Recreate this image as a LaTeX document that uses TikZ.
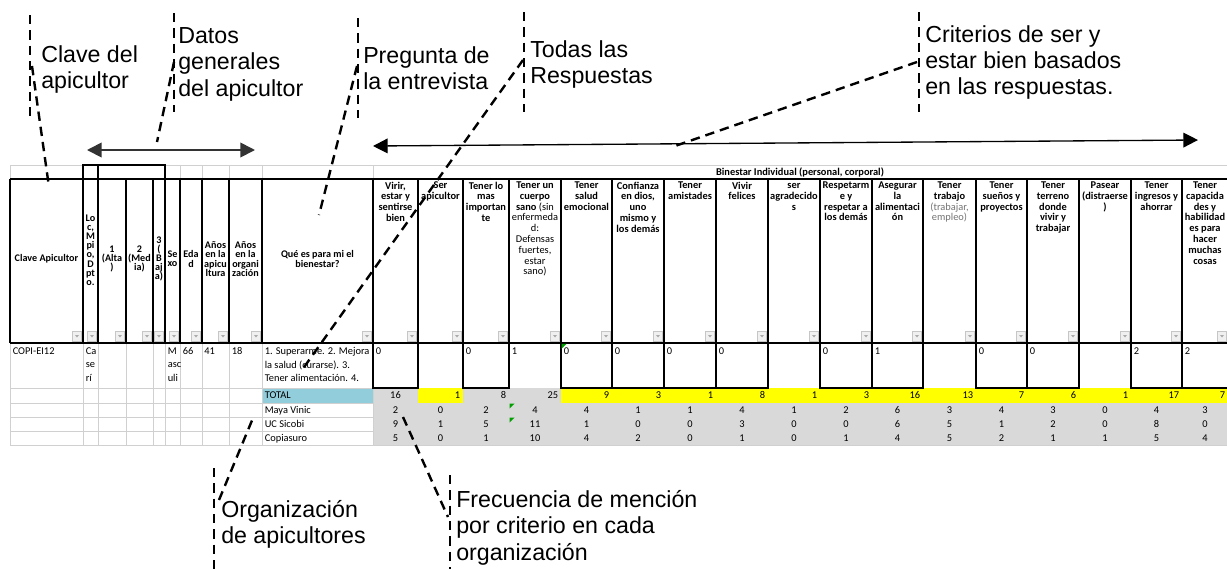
\documentclass[tikz,border=0pt]{standalone}
\usepackage{fontspec}
\setmainfont{Liberation Sans}
\newfontfamily\cellfont{Carlito}
\usetikzlibrary{arrows.meta}
\definecolor{gridgray}{HTML}{D0D0D0}
\definecolor{cellgray}{HTML}{D9D9D9}
\definecolor{totalblue}{HTML}{92CDDC}
\definecolor{markyellow}{HTML}{FFFF00}
\definecolor{notegreen}{HTML}{00A000}
\definecolor{arrowgray}{HTML}{333333}
\newcommand{\plainpart}[1]{{\mdseries #1}}
\newcommand{\litepart}[1]{{\mdseries\color{black!55}#1}}
\setlength{\lineskiplimit}{-5pt}

\begin{document}
\begin{tikzpicture}[x=0.75pt, y=-0.75pt,
  callout/.style={line width=1.8pt, dash pattern=on 7pt off 4.5pt},
  calltext/.style={font=\fontsize{17.4}{19.8}\selectfont, align=left, anchor=north west, inner sep=0pt},
  hdrleft/.style={font=\cellfont\bfseries\fontsize{7.6}{6.9}\selectfont, align=center, inner sep=0pt},
  hdrcrit/.style={font=\cellfont\bfseries\fontsize{7.8}{8.1}\selectfont, align=center, anchor=north, inner sep=0pt},
  celltxt/.style={font=\cellfont\fontsize{7.8}{10.1}\selectfont, align=left, anchor=north west, inner sep=0pt},
  numtxt/.style={font=\cellfont\fontsize{7.8}{9}\selectfont, inner sep=0pt, anchor=base},
  blackline/.style={line width=0.9pt},
  filterbtn/.style={draw=gray!45, fill=gray!12, line width=0.3pt},
  spanarrow/.style={{Triangle[length=11pt,width=11pt]}-{Triangle[length=11pt,width=11pt]}}]
\useasboundingbox (0,0) rectangle (1227,569);

\fill[cellgray] (373,388) rectangle (1230,445);
\fill[markyellow] (418,388) rectangle (463,403);
\fill[markyellow] (561,388) rectangle (1230,403);
\fill[totalblue] (262,388) rectangle (373,403);

\draw[gridgray] (10,165) -- (1230,165);
\foreach \x in {10,83,180,202,229,262,373}
  \draw[gridgray] (\x,165) -- (\x,179);
\foreach \x in {10,83,98,126,153,165,180,202,229,262,373}
  \draw[gridgray] (\x,343) -- (\x,445);
\foreach \y in {388,403,417,431,445}
  \draw[gridgray] (10,\y) -- (373,\y);
\draw[gridgray] (373,445) -- (1230,445);

\draw[blackline] (10,179) -- (1230,179);
\foreach \x in {10,83,98,126,153,165,180,202,229,262,373,418,463,509,561,612,664,716,768,820,872,923,976,1027,1079,1131,1182}
  \draw[blackline] (\x,179) -- (\x,343);
\draw[line width=1.5pt] (10,343) -- (1230,343);
\draw[blackline] (83,165) rectangle (165,179) (98,165) -- (98,179);

\node[hdrcrit, anchor=center] (bienestar) at (800,172.5) {Binestar Individual (personal, corporal)};

\foreach \l/\r/\txt [count=\i] in {
  10/83/{Clave Apicultor},
  83/98/{Lo\\c,\\M\\pi\\o,\\D\\pt\\o.},
  98/126/{1\\(Alta\\)},
  126/153/{2\\(Med\\ia)},
  153/165/{3\\(\\B\\aj\\a)},
  165/180/{Se\\xo},
  180/202/{Eda\\d},
  202/229/{Años\\en la\\apicu\\ltura},
  229/262/{Años\\en la\\organi\\zación},
  262/373/{Qué es para mi el\\bienestar?}}
  \node[hdrleft] (lhd\i) at ({(\l+\r)/2},{\i==2 ? 250 : 259}) {\txt};

\foreach \l/\r/\txt [count=\i] in {
  373/418/{Virir,\\estar y\\sentirse\\bien},
  418/463/{Ser\\apicultor},
  463/509/{Tener lo\\mas\\importan\\te},
  509/561/{Tener un\\cuerpo\\sano \plainpart{(sin}\\\plainpart{enfermeda}\\\plainpart{d:}\\\plainpart{Defensas}\\\plainpart{fuertes,}\\\plainpart{estar}\\\plainpart{sano)}},
  561/612/{Tener\\salud\\emocional},
  612/664/{Confianza\\en dios,\\uno\\mismo y\\los demás},
  664/716/{Tener\\amistades},
  716/768/{Vivir\\felices},
  768/820/{\vphantom{T}ser\\agradecido\\s},
  820/872/{Respetarm\\e y\\respetar a\\los demás},
  872/923/{Asegurar\\la\\alimentaci\\ón},
  923/976/{Tener\\trabajo\\\litepart{(trabajar,}\\\litepart{empleo)}},
  976/1027/{Tener\\sueños y\\proyectos},
  1027/1079/{Tener\\terreno\\donde\\vivir y\\trabajar},
  1079/1131/{Pasear\\(distraerse\\)},
  1131/1182/{Tener\\ingresos y\\ahorrar},
  1182/1228/{Tener\\capacida\\des y\\habilidad\\es para\\hacer\\muchas\\cosas}}
  \node[hdrcrit] (crit\i) at ({(\l+\r)/2},181.5) {\txt};

\foreach \x in {83,98,126,153,165,180,202,229,262,373,418,463,509,561,612,664,716,768,820,872,923,976,1027,1079,1131,1182,1228}{
  \draw[filterbtn] (\x-10.5,331.5) rectangle (\x-1.5,341.5);
  \fill[gray!65] (\x-8,335) -- (\x-4,335) -- (\x-6,337.5) -- cycle;
}

\foreach \l/\r in {373/418,463/509,561/612,612/664,664/716,716/768,820/872,872/923,976/1027,1027/1079,1131/1182,1182/1231}
  \draw[blackline] (\l,343) rectangle (\r,388);

\node[celltxt] (clave) at (12.5,347.5) {COPI-EI12};
\node[celltxt] (loc) at (85.5,347.5) {Ca\\se\\rí};
\node[celltxt] (sexo) at (167.5,347.5) {M\\asc\\uli};
\node[celltxt] (edad) at (182.5,347.5) {66};
\node[celltxt] (apic) at (204,347.5) {41};
\node[celltxt] (orga) at (231.5,347.5) {18};
\node[celltxt] (resp) at (264.5,347.5) {1. Superarme. 2. Mejora\\la salud (curarse). 3.\\Tener alimentación. 4.};

\node[celltxt, anchor=base west] (totlbl) at (264.5,398.8) {TOTAL};
\node[celltxt, anchor=base west] (maya) at (264.5,413.3) {Maya Vinic};
\node[celltxt, anchor=base west] (sicobi) at (264.5,427.3) {UC Sicobi};
\node[celltxt, anchor=base west] (copia) at (264.5,441.3) {Copiasuro};

\foreach \l/\r/\vd/\vt/\vm/\vu/\vc [count=\i] in {
  373/418/0/16/2/9/5,
  418/463/{}/1/0/1/0,
  463/509/0/8/2/5/1,
  509/561/1/25/4/11/10,
  561/612/0/9/4/1/4,
  612/664/0/3/1/0/2,
  664/716/0/1/1/0/0,
  716/768/0/8/4/3/1,
  768/820/{}/1/1/0/0,
  820/872/0/3/2/0/1,
  872/923/1/16/6/6/4,
  923/976/{}/13/3/5/5,
  976/1027/0/7/4/1/2,
  1027/1079/0/6/3/2/1,
  1079/1131/{}/1/0/0/1,
  1131/1182/2/17/4/8/5,
  1182/1228/2/7/3/0/4}{
  \node[celltxt] (dat\i) at (\l+2.5,347.5) {\vd};
  \ifnum\i=1
    \node[numtxt] (tot\i) at ({(\l+\r)/2},398.8) {\vt};
  \else
    \node[numtxt, anchor=base east] (tot\i) at (\r-2.5,398.8) {\vt};
  \fi
  \node[numtxt] (maya\i) at ({(\l+\r)/2},413.3) {\vm};
  \node[numtxt] (sicobi\i) at ({(\l+\r)/2},427.3) {\vu};
  \node[numtxt] (copia\i) at ({(\l+\r)/2},441.3) {\vc};
}

\foreach \x/\y in {561/343.8,509/403.5,509/417.5}
  \fill[notegreen] (\x+0.5,\y) -- ++(5,0) -- ++(-5,5) -- cycle;

\node[calltext] (claveTxt) at (41,45) {Clave del\\apicultor};
\coordinate (claveA) at (30,15);
\coordinate (claveB) at (30,117);
\coordinate (claveC) at (32,66);
\coordinate (claveD) at (49,187);
\draw[callout] (claveA) -- (claveB);
\draw[callout] (claveC) -- (claveD);

\node[calltext] (datosTxt) at (178,27) {Datos\\generales\\del apicultor};
\coordinate (datosA) at (174,13);
\coordinate (datosB) at (174,112);
\coordinate (datosC) at (174,62);
\coordinate (datosD) at (157,142);
\draw[callout] (datosA) -- (datosB);
\draw[callout] (datosC) -- (datosD);
\coordinate (datosL) at (87,150);
\coordinate (datosR) at (255,150);
\draw[spanarrow, arrowgray, line width=1.3pt] (datosL) -- (datosR);

\node[calltext] (preguntaTxt) at (363,46) {Pregunta de\\la entrevista};
\coordinate (preguntaA) at (358,18);
\coordinate (preguntaB) at (358,118);
\coordinate (preguntaC) at (357,66);
\coordinate (preguntaD) at (319,215);
\draw[callout] (preguntaA) -- (preguntaB);
\draw[callout] (preguntaC) -- (preguntaD);

\node[calltext] (todasTxt) at (530,40) {Todas las\\Respuestas};
\coordinate (todasA) at (524,12);
\coordinate (todasB) at (524,112);
\coordinate (todasC) at (523,60);
\coordinate (todasD) at (302,370);
\draw[callout] (todasA) -- (todasB);
\draw[callout] (todasC) -- (todasD);

\node[calltext] (criteriosTxt) at (925,25) {Criterios de ser y\\estar bien basados\\en las respuestas.};
\coordinate (criteriosA) at (919,12);
\coordinate (criteriosB) at (919,112);
\coordinate (criteriosC) at (917,62);
\coordinate (criteriosD) at (675,146);
\draw[callout] (criteriosA) -- (criteriosB);
\draw[callout] (criteriosC) -- (criteriosD);
\coordinate (criteriosL) at (373,146);
\coordinate (criteriosR) at (1198,140);
\draw[spanarrow, line width=1pt] (criteriosL) -- (criteriosR);

\node[calltext] (orgTxt) at (221,500) {Organización\\de apicultores};
\coordinate (orgA) at (214,468);
\coordinate (orgB) at (214,569);
\coordinate (orgC) at (219,500);
\coordinate (orgD) at (253,418);
\draw[callout] (orgA) -- (orgB);
\draw[callout] (orgC) -- (orgD);

\node[calltext] (frecTxt) at (456,490) {Frecuencia de mención\\por criterio en cada\\organización};
\coordinate (frecA) at (450,475);
\coordinate (frecB) at (450,569);
\coordinate (frecC) at (403,417);
\coordinate (frecD) at (448,517);
\draw[callout] (frecA) -- (frecB);
\draw[callout] (frecC) -- (frecD);
\end{tikzpicture}
\end{document}
